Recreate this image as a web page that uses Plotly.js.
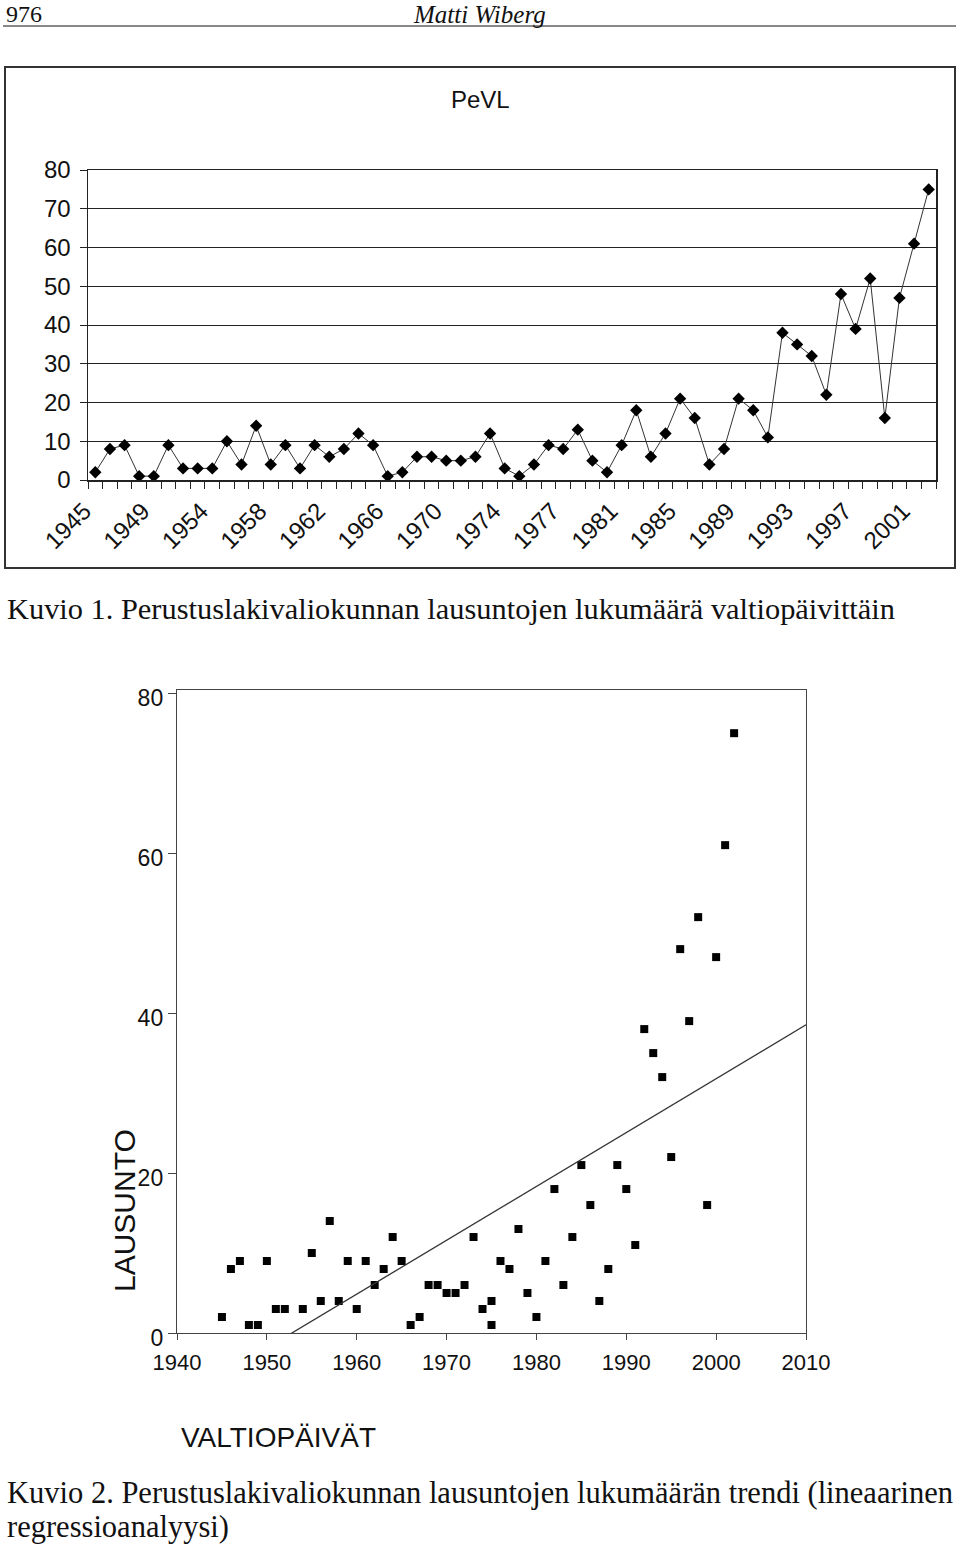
<!DOCTYPE html>
<html><head><meta charset="utf-8">
<script src="https://cdn.plot.ly/plotly-3.0.1.min.js"></script>
<style>html,body{margin:0;padding:0;background:#fff}#chart{width:960px;height:1548px}</style>
</head><body><div id="chart"></div>
<script>
// Valtiopäivät (sessions) – 1953 absent, 1975 has two sessions
const sessionYears = [1945,1946,1947,1948,1949,1950,1951,1952,1954,1955,1956,1957,1958,1959,1960,1961,1962,1963,1964,1965,1966,1967,1968,1969,1970,1971,1972,1973,1974,1975,1975,1976,1977,1978,1979,1980,1981,1982,1983,1984,1985,1986,1987,1988,1989,1990,1991,1992,1993,1994,1995,1996,1997,1998,1999,2000,2001,2002];
// Perustuslakivaliokunnan lausunnot per session
const lausunnot = [2,8,9,1,1,9,3,3,3,10,4,14,4,9,3,9,6,8,12,9,1,2,6,6,5,5,6,12,3,1,4,9,8,13,5,2,9,18,6,12,21,16,4,8,21,18,11,38,35,32,22,48,39,52,16,47,61,75];
const labelEvery = 4;
const trendYears = [1940, 2010];

const W = 960, H = 1548;
const px = x => x / W;
const py = y => 1 - y / H;

const idx = sessionYears.map((_, i) => i);
const tickIdx = idx.filter(i => i % labelEvery === 0);
const tickTxt = tickIdx.map(i => String(sessionYears[i]));
const boundaries = idx.concat([idx.length]).map(i => i - 0.5);

// ordinary least squares trend
const n = sessionYears.length;
const mx = sessionYears.reduce((a, b) => a + b, 0) / n;
const my = lausunnot.reduce((a, b) => a + b, 0) / n;
let sxy = 0, sxx = 0;
for (let i = 0; i < n; i++) { sxy += (sessionYears[i] - mx) * (lausunnot[i] - my); sxx += (sessionYears[i] - mx) ** 2; }
const slope = sxy / sxx;
const trendVals = trendYears.map(x => my + slope * (x - mx));

const sans = 'Liberation Sans, Arial, sans-serif';
const serif = 'Liberation Serif, Times New Roman, serif';

const traces = [
  { x: idx, y: lausunnot, type: 'scatter', mode: 'lines+markers', xaxis: 'x', yaxis: 'y',
    line: { color: '#333', width: 1 },
    marker: { symbol: 'diamond', size: 9.5, color: '#000' }, cliponaxis: false },
  { x: sessionYears, y: lausunnot, type: 'scatter', mode: 'markers', xaxis: 'x2', yaxis: 'y2',
    marker: { symbol: 'square', size: 8, color: '#000' }, cliponaxis: false },
  { x: trendYears, y: trendVals, type: 'scatter', mode: 'lines', xaxis: 'x2', yaxis: 'y2',
    line: { color: '#333', width: 1.3 } }
];

const layout = {
  width: W, height: H, margin: { l: 0, r: 0, t: 0, b: 0 },
  paper_bgcolor: '#fff', plot_bgcolor: '#fff', showlegend: false,
  font: { family: sans, color: '#111' },
  xaxis: {
    domain: [px(88), px(936)], range: [-0.5, idx.length - 0.5], anchor: 'y',
    tickmode: 'array', tickvals: tickIdx, ticktext: tickTxt, tickangle: -45,
    ticks: 'outside', ticklen: 7, tickcolor: 'rgba(0,0,0,0)',
    ticklabelshift: -11, ticklabelstandoff: -1,
    minor: { tickmode: 'array', tickvals: boundaries, ticks: 'outside', ticklen: 7, tickwidth: 1, tickcolor: '#222', showgrid: false },
    showline: true, linecolor: '#222', linewidth: 1.5, mirror: true,
    showgrid: false, zeroline: false, tickfont: { size: 24, family: sans, color: '#111' }
  },
  yaxis: {
    domain: [py(480), py(170)], range: [0, 80], anchor: 'x', dtick: 10,
    ticks: 'outside', ticklen: 7, tickcolor: '#222', ticklabelstandoff: 4,
    showgrid: true, gridcolor: '#222', gridwidth: 1,
    showline: true, linecolor: '#222', linewidth: 1.5, mirror: true,
    zeroline: false, tickfont: { size: 24, family: sans, color: '#111' }
  },
  xaxis2: {
    domain: [px(177), px(806)], range: [1940, 2010], anchor: 'y2', dtick: 10, tick0: 1940,
    ticks: 'outside', ticklen: 6, tickcolor: '#444', ticklabelstandoff: 3,
    showline: true, linecolor: '#444', linewidth: 1.2, mirror: true,
    showgrid: false, zeroline: false, tickfont: { size: 22, family: sans, color: '#111' }
  },
  yaxis2: {
    domain: [py(1333), py(690)], range: [0, 80.4], anchor: 'x2', dtick: 20, tick0: 0,
    ticks: 'outside', ticklen: 8, tickcolor: '#444', ticklabelshift: 5,
    showline: true, linecolor: '#444', linewidth: 1.2, mirror: true,
    showgrid: false, zeroline: false, tickfont: { size: 23, family: sans, color: '#111' }
  },
  shapes: [
    { type: 'line', xref: 'paper', yref: 'paper', x0: px(3), x1: px(956), y0: py(26), y1: py(26), line: { color: '#888', width: 2 } },
    { type: 'rect', xref: 'paper', yref: 'paper', x0: px(5), x1: px(955), y0: py(67), y1: py(568), line: { color: '#333', width: 2 } }
  ],
  annotations: [
    { text: '976', xref: 'paper', yref: 'paper', x: px(4), y: py(14), xanchor: 'left', yanchor: 'middle', showarrow: false, font: { family: serif, size: 24, color: '#111' } },
    { text: '<i>Matti Wiberg</i>', xref: 'paper', yref: 'paper', x: px(479), y: py(14), xanchor: 'center', yanchor: 'middle', showarrow: false, font: { family: serif, size: 25, color: '#111' } },
    { text: 'PeVL', xref: 'paper', yref: 'paper', x: px(480), y: py(100), xanchor: 'center', yanchor: 'middle', showarrow: false, font: { family: sans, size: 24, color: '#111' } },
    { text: 'Kuvio 1. Perustuslakivaliokunnan lausuntojen lukumäärä valtiopäivittäin', xref: 'paper', yref: 'paper', x: px(5), y: py(609), xanchor: 'left', yanchor: 'middle', showarrow: false, font: { family: serif, size: 30.4, color: '#111' } },
    { text: 'LAUSUNTO', xref: 'paper', yref: 'paper', x: px(124), y: py(1211), xanchor: 'center', yanchor: 'middle', textangle: -90, showarrow: false, font: { family: sans, size: 30, color: '#111' } },
    { text: 'VALTIOPÄIVÄT', xref: 'paper', yref: 'paper', x: px(278), y: py(1437), xanchor: 'center', yanchor: 'middle', showarrow: false, font: { family: sans, size: 28, color: '#111' } },
    { text: 'Kuvio 2. Perustuslakivaliokunnan lausuntojen lukumäärän trendi (lineaarinen', xref: 'paper', yref: 'paper', x: px(5), y: py(1493), xanchor: 'left', yanchor: 'middle', showarrow: false, font: { family: serif, size: 30.5, color: '#111' } },
    { text: 'regressioanalyysi)', xref: 'paper', yref: 'paper', x: px(5), y: py(1527), xanchor: 'left', yanchor: 'middle', showarrow: false, font: { family: serif, size: 30.5, color: '#111' } }
  ]
};

Plotly.newPlot('chart', traces, layout, { displayModeBar: false, staticPlot: true });
</script>
</body></html>
